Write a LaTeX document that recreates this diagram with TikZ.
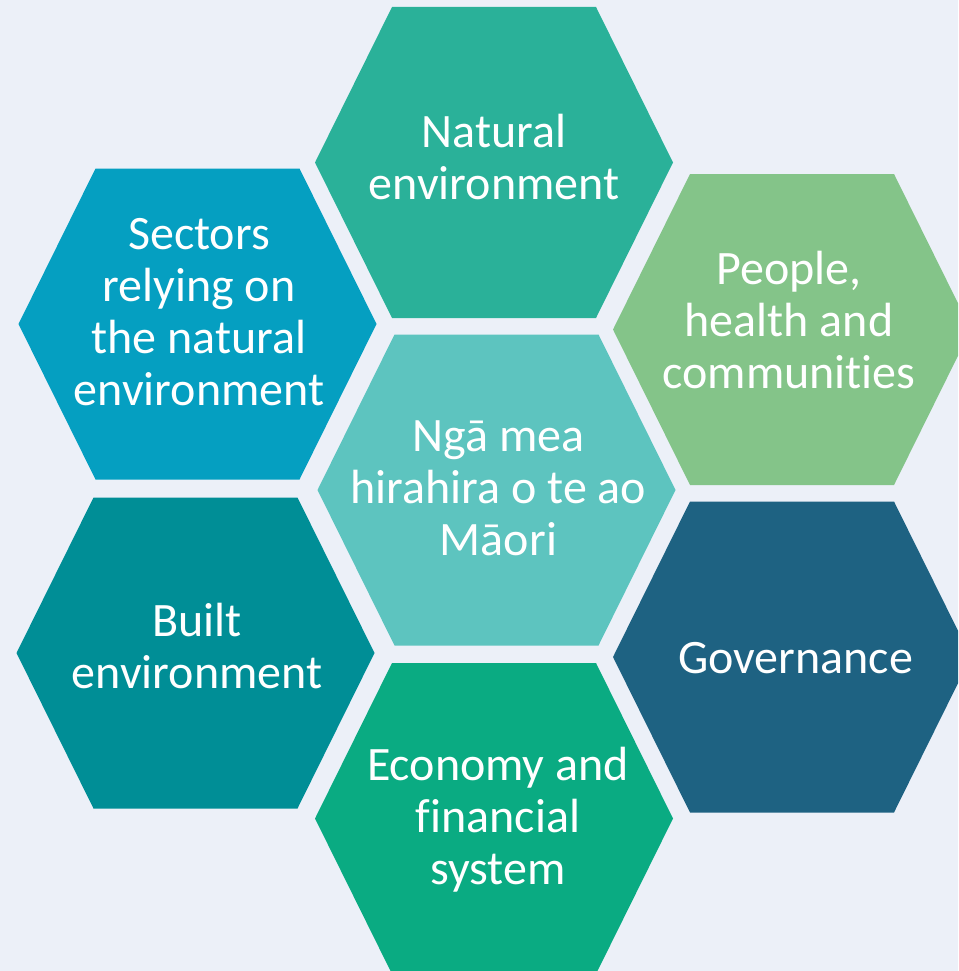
\documentclass[tikz,border=0pt]{standalone}
\usepackage{fontspec}
\setmainfont{Carlito}[Ligatures={NoCommon,NoRare}]
\definecolor{bgc}{HTML}{ECF0F8}
\definecolor{natc}{HTML}{2AB199}
\definecolor{secc}{HTML}{059FC1}
\definecolor{peoc}{HTML}{84C489}
\definecolor{cenc}{HTML}{5DC4BF}
\definecolor{bltc}{HTML}{008E96}
\definecolor{govc}{HTML}{1E6282}
\definecolor{ecoc}{HTML}{0AAB82}
\newcommand\hexa[3]{\fill[#3] (#1-179,#2) -- (#1-102,#2-155.5) -- (#1+102,#2-155.5) -- (#1+179,#2) -- (#1+102,#2+155.5) -- (#1-102,#2+155.5) -- cycle;}
\newcommand\ls{\rule[-14pt]{0pt}{52pt}}
\tikzset{lbl/.style={text=white, align=center, inner sep=0pt, font=\fontsize{48}{52}\selectfont}}
\begin{document}
\begin{tikzpicture}[x=1pt,y=-1pt]
\useasboundingbox (0,0) rectangle (958,971);
\fill[bgc] (0,0) rectangle (958,971);
\begin{scope}
\clip (0,0) rectangle (958,971);
\hexa{494}{162.5}{natc}
\hexa{197.5}{324}{secc}
\hexa{792}{329.5}{peoc}
\hexa{496.5}{490}{cenc}
\hexa{195.5}{653}{bltc}
\hexa{792}{657}{govc}
\hexa{494}{818.5}{ecoc}
\end{scope}
\node[lbl] (nat) at (494,161) {\ls Natural\\\ls environment};
\node[lbl] (sec) at (199,315) {\ls Sectors\\\ls relying on\\\ls the natural\\\ls environment};
\node[lbl] (peo) at (789,324) {\ls People,\\\ls health and\\\ls communities};
\node[lbl] (cen) at (498.5,491) {\ls Ngā mea\\\ls hirahira o te ao\\\ls Māori};
\node[lbl] (blt) at (197,650) {\ls Built\\\ls environment};
\node[lbl] (gov) at (795.5,661) {\ls Governance};
\node[lbl] (eco) at (498,820) {\ls Economy and\\\ls financial\\\ls system};
\end{tikzpicture}
\end{document}
